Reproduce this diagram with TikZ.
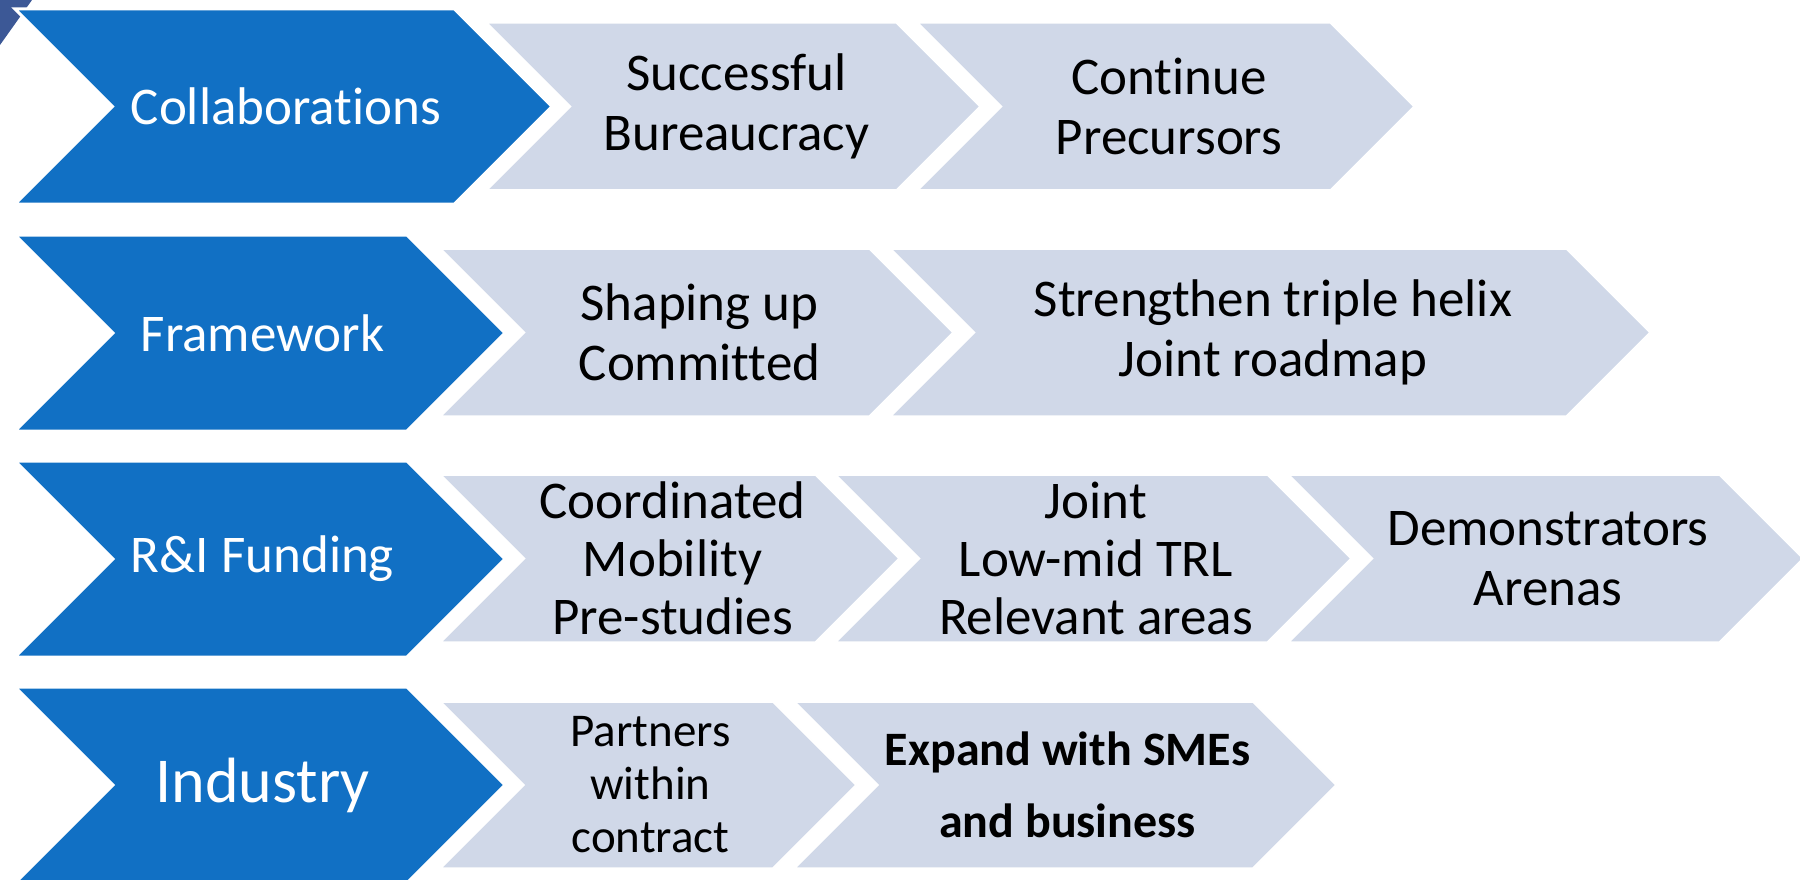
\documentclass[tikz,border=0pt]{standalone}
\usepackage{fontspec}
\setmainfont{Carlito}[Ligatures=NoCommon]
\definecolor{chevblue}{RGB}{17,112,196}
\definecolor{chevlight}{RGB}{208,216,232}
\definecolor{cornerdark}{RGB}{60,88,150}
\tikzset{
  bluechev/.style={fill=chevblue, draw=white, line width=3pt, line join=miter},
  lightchev/.style={fill=chevlight, draw=white, line width=1.5pt, line join=miter},
  bluelabel/.style={text=white, align=center, inner sep=0pt, font=\fontsize{53}{60}\selectfont},
  lightlabel/.style={text=black, align=center, inner sep=0pt, font=\fontsize{53}{60}\selectfont},
}
\newcommand\mychevron[5]{% style, x0, tip, ytop, ybot
  \pgfmathsetmacro\chevD{(#5-#4)/2}
  \pgfmathsetmacro\chevM{(#5+#4)/2}
  \path[#1] (#2,#4) -- ({#3-\chevD},#4) -- (#3,\chevM) -- ({#3-\chevD},#5) -- (#2,#5) -- ({#2+\chevD},\chevM) -- cycle;
}
\begin{document}
\begin{tikzpicture}[x=1pt,y=-1pt]
\useasboundingbox (0,0) rectangle (1800,880);
\fill[white] (0,0) rectangle (1800,880);
% corner sliver
\fill[cornerdark] (0,0) -- (32,0) -- (0,45) -- cycle;
% row 1
\mychevron{bluechev}{15}{552}{9}{204}
\mychevron{lightchev}{487}{980}{23}{190}
\mychevron{lightchev}{918}{1414}{23}{190}
\node[bluelabel] (collab) at (286,106.5) {Collaborations};
\node[lightlabel] (succ) at (736.5,106.5) {Successful\\Bureaucracy};
\node[lightlabel] (cont) at (1169,106.5) {Continue\\Precursors};
% row 2
\mychevron{bluechev}{15}{505}{235}{431}
\mychevron{lightchev}{441}{953}{249}{416}
\mychevron{lightchev}{891}{1650}{249}{416}
\node[bluelabel] (frame) at (262.5,333) {Framework};
\node[lightlabel] (shape) at (699.5,332.5) {Shaping up\\Committed};
\node[lightlabel] (helix) at (1273,332.5) {Strengthen triple helix\\Joint roadmap};
% row 3
\mychevron{bluechev}{15}{505}{461}{657}
\mychevron{lightchev}{441}{899}{475}{642}
\mychevron{lightchev}{836}{1351}{475}{642}
\mychevron{lightchev}{1289}{1803}{475}{642}
\node[bluelabel] (fund) at (262.5,559) {R\&I Funding};
\node[lightlabel, font=\fontsize{53}{58}\selectfont] (coord) at (672.5,558.5) {Coordinated\\Mobility\\Pre-studies};
\node[lightlabel, font=\fontsize{53}{58}\selectfont] (joint) at (1096,558.5) {Joint\\Low-mid TRL\\Relevant areas};
\node[lightlabel] (demo) at (1548,558.5) {Demonstrators\\Arenas};
% row 4
\mychevron{bluechev}{15}{505}{687}{883}
\mychevron{lightchev}{441}{856}{702}{868}
\mychevron{lightchev}{795}{1336}{702}{868}
\node[bluelabel, font=\fontsize{64}{70}\selectfont] (ind) at (262.5,785) {Industry};
\node[lightlabel, font=\fontsize{47}{53}\selectfont] (part) at (650.5,785) {Partners\\within\\contract};
\node[lightlabel, font=\fontsize{48}{72}\selectfont\bfseries] (expand) at (1067.5,785) {Expand with SMEs\\and business};
\end{tikzpicture}
\end{document}
